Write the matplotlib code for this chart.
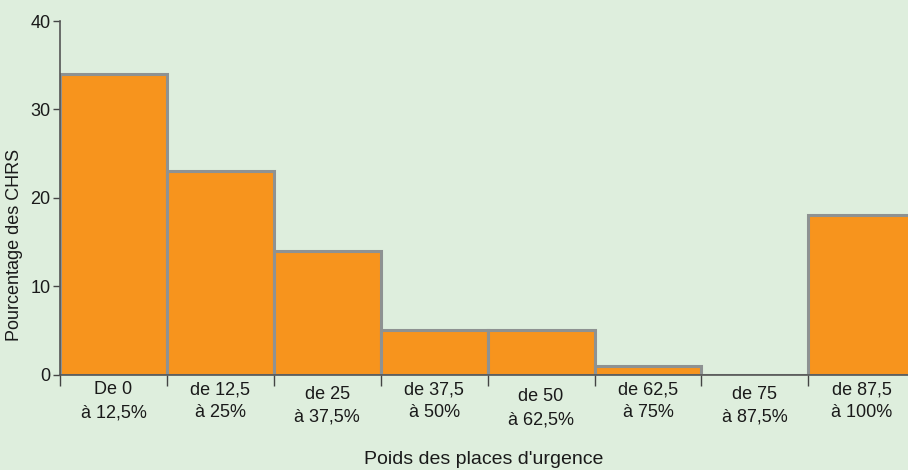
import matplotlib.pyplot as plt
import numpy as np

# share of CHRS by weight of emergency places
categories = ["De 0\nà 12,5%", "de 12,5\nà 25%", "de 25\nà 37,5%", "de 37,5\nà 50%",
              "de 50\nà 62,5%", "de 62,5\nà 75%", "de 75\nà 87,5%", "de 87,5\nà 100%"]
values = [34, 23, 14, 5, 5, 1, 0, 18]
label_drop = [0, 0, 3, 0, 5, 0, 3, 0]

bg = "#deeedd"
plt.rcParams["font.family"] = ["Liberation Sans", "DejaVu Sans"]

fig = plt.figure(figsize=(9.08, 4.70), dpi=100, facecolor=bg)
ax = fig.add_axes([60 / 908, 1 - 374.5 / 470, 848 / 908, 353.5 / 470])
ax.set_facecolor(bg)

x = np.arange(len(values))
ax.bar(x, values, width=1.0, align="edge", color="#f7941d",
       edgecolor="#8e9292", linewidth=2.2, zorder=2)

ax.set_xlim(0, 848 / 106.9)
ax.set_ylim(0, 40)

ax.set_yticks([0, 10, 20, 30, 40])
ax.tick_params(axis="y", length=5, width=1, color="#444444", labelsize=13,
               pad=2, labelcolor="#1a1a1a")

ax.set_xticks(np.arange(0, 8), minor=True)
ax.set_xticks([])
ax.tick_params(axis="x", which="minor", length=8, width=1, color="#444444")
for i, (lab, d) in enumerate(zip(categories, label_drop)):
    ax.annotate(lab, xy=(i + 0.5, 0), xycoords="data", xytext=(0, -5 - d),
                textcoords="offset points", ha="center", va="top",
                fontsize=13, linespacing=1.45, color="#1a1a1a")

for s in ["top", "right"]:
    ax.spines[s].set_visible(False)
for s in ["left", "bottom"]:
    ax.spines[s].set_color("#555555")
    ax.spines[s].set_linewidth(1.2)
    ax.spines[s].set_zorder(3)

fig.text(15 / 908, 1 - 245 / 470, "Pourcentage des CHRS", rotation=90,
         ha="center", va="center", fontsize=13, color="#1a1a1a")
fig.text(484 / 908, 1 - 459 / 470, "Poids des places d'urgence",
         ha="center", va="center", fontsize=14, color="#1a1a1a")

fig.savefig("out.png", dpi=100, facecolor=bg)
